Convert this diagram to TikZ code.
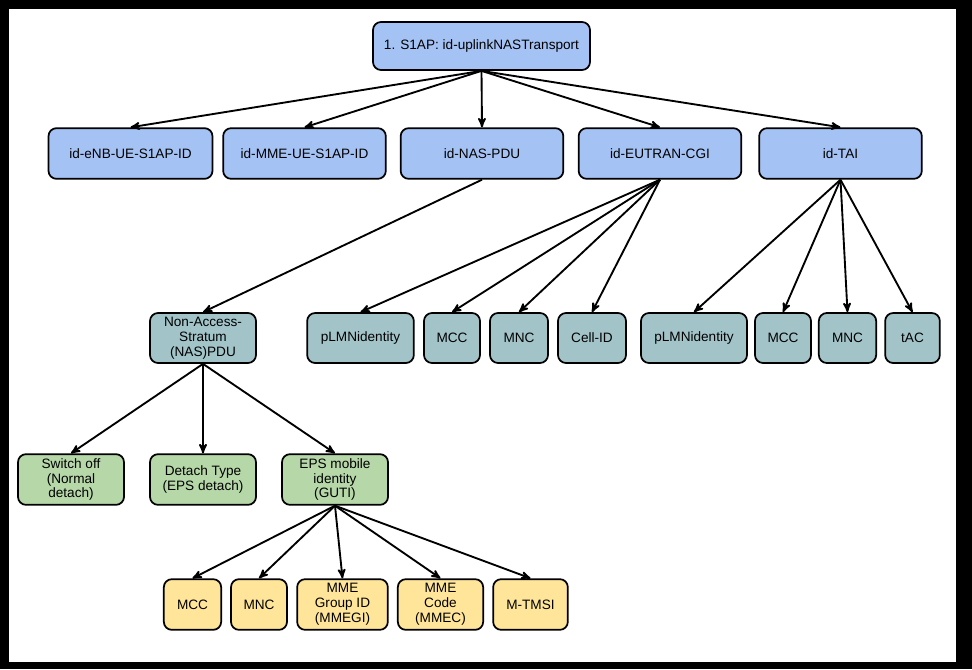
\documentclass[tikz,border=0pt]{standalone}
\usepackage{fontspec}
\setmainfont{Liberation Sans}
\usepackage{tikz}
\usetikzlibrary{arrows, positioning}
\definecolor{colorTop}{HTML}{A4C2F4}
\definecolor{colorField}{HTML}{A2C4C9}
\definecolor{colorNas}{HTML}{B6D7A8}
\definecolor{colorGuti}{HTML}{FFE599}
\tikzset{
  ie/.style={draw=black, line width=1.3pt, rounded corners=6pt, align=center,
    font=\fontsize{10.2}{11.2}\selectfont, inner sep=2pt, minimum height=38pt},
  top/.style={ie, fill=colorTop},
  field/.style={ie, fill=colorField, minimum height=37.5pt},
  nas/.style={ie, fill=colorNas},
  guti/.style={ie, fill=colorGuti},
  link/.style={->, line width=1.4pt}
}

\begin{document}
\begin{tikzpicture}[>=stealth', x=0.75pt, y=-0.75pt]
\fill[black] (0,0) rectangle (972,669);
\fill[white] (9,9) rectangle (956,662);
\useasboundingbox (0,0) rectangle (972,669);

\node[top, minimum width=162.75pt, minimum height=36pt] (s1ap) at (481.5,46) {1. S1AP: id-uplinkNASTransport};
\node[top, minimum width=123pt] (enb) at (130.5,153.5) {id-eNB-UE-S1AP-ID};
\node[top, minimum width=122pt] (mme) at (304.5,153.5) {id-MME-UE-S1AP-ID};
\node[top, minimum width=122pt] (naspdu) at (482,153.5) {id-NAS-PDU};
\node[top, minimum width=122pt] (cgi) at (660,153.5) {id-EUTRAN-CGI};
\node[top, minimum width=122pt] (tai) at (840.5,153.5) {id-TAI};

\node[field, minimum width=79.5pt] (nasmsg) at (203,338) {Non-Access-\\Stratum\\(NAS)PDU};
\node[field, minimum width=80pt] (plmnA) at (360.5,338) {pLMNidentity};
\node[field, minimum width=42pt] (mccA) at (452,338) {MCC};
\node[field, minimum width=43.5pt] (mncA) at (519,338) {MNC};
\node[field, minimum width=51pt] (cellid) at (592,338) {Cell-ID};
\node[field, minimum width=79.5pt] (plmnB) at (694,338) {pLMNidentity};
\node[field, minimum width=42pt] (mccB) at (783,338) {MCC};
\node[field, minimum width=43pt] (mncB) at (847.5,338) {MNC};
\node[field, minimum width=41pt] (tac) at (912.5,338) {tAC};

\node[nas, minimum width=79.5pt] (switchoff) at (71,479.5) {Switch off\\(Normal\\detach)};
\node[nas, minimum width=79.5pt] (detach) at (203,479.5) {Detach Type\\(EPS detach)};
\node[nas, minimum width=79.5pt] (guti) at (335,479.5) {EPS mobile\\identity\\(GUTI)};

\node[guti, minimum width=43pt] (mccC) at (192.5,604.5) {MCC};
\node[guti, minimum width=42pt] (mncC) at (259,604.5) {MNC};
\node[guti, minimum width=68pt] (mmegi) at (342.5,604.5) {MME\\Group ID\\(MMEGI)};
\node[guti, minimum width=64pt] (mmec) at (440.5,604.5) {MME\\Code\\(MMEC)};
\node[guti, minimum width=56pt] (mtmsi) at (530.5,604.5) {M-TMSI};

\foreach \child in {enb, mme, naspdu, cgi, tai}
  \draw[link] (s1ap.south) -- (\child.north);
\draw[link] (naspdu.south) -- (nasmsg.north);
\foreach \child in {plmnA, mccA, mncA, cellid}
  \draw[link] (cgi.south) -- (\child.north);
\foreach \child in {plmnB, mccB, mncB, tac}
  \draw[link] (tai.south) -- (\child.north);
\foreach \child in {switchoff, detach, guti}
  \draw[link] (nasmsg.south) -- (\child.north);
\foreach \child in {mccC, mncC, mmegi, mmec, mtmsi}
  \draw[link] (guti.south) -- (\child.north);
\end{tikzpicture}
\end{document}
